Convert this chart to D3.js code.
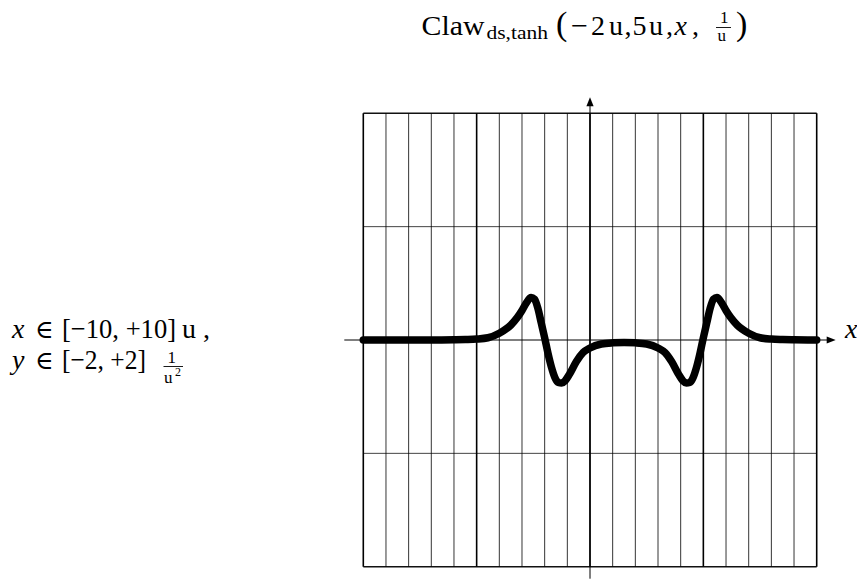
<!DOCTYPE html>
<html>
<head>
<meta charset="utf-8">
<script src="https://cdn.jsdelivr.net/npm/d3@7"></script>
<style>
  html, body { margin: 0; padding: 0; background: #fff; }
  svg { display: block; }
  text { font-family: "Liberation Serif", "DejaVu Serif", serif; fill: #000; }
</style>
</head>
<body>
<svg id="chart" width="857" height="584"></svg>
<script>
// Plot ranges
const xDomain = [-10, 10];
const yDomain = [-2, 2];

// Grid positions (x every unit, heavier every 5; y every unit)
const xGridValues = [-10, -9, -8, -7, -6, -5, -4, -3, -2, -1, 0, 1, 2, 3, 4, 5, 6, 7, 8, 9, 10];
const xMajorValues = [-10, -5, 0, 5, 10];
const yGridValues = [-2, -1, 1, 2];

// Sampled claw curve
const curveX = [-10, -7, -6, -5.5, -5, -4.5, -4, -3.5, -3.2, -3, -2.8, -2.6, -2.45, -2.3, -2.15, -2,
  -1.85, -1.7, -1.55, -1.4, -1.25, -1.1, -0.9, -0.6, -0.3, 0, 0.5, 1, 1.5, 2, 2.5, 3, 3.3, 3.6,
  3.9, 4.1, 4.25, 4.4, 4.55, 4.7, 4.85, 5, 5.15, 5.3, 5.45, 5.6, 5.8, 6, 6.2, 6.5, 7, 7.5, 8,
  8.5, 9, 10];
const curveY = [0, 0, 0.002, 0.004, 0.008, 0.02, 0.06, 0.13, 0.2, 0.26, 0.33, 0.375, 0.36, 0.28, 0.15, 0.02,
  -0.12, -0.24, -0.33, -0.375, -0.38, -0.36, -0.3, -0.19, -0.11, -0.07, -0.035, -0.025, -0.022, -0.025, -0.035, -0.07, -0.11, -0.19,
  -0.3, -0.36, -0.38, -0.375, -0.33, -0.24, -0.12, 0.02, 0.15, 0.28, 0.36, 0.375, 0.33, 0.26, 0.2, 0.13, 0.06, 0.02, 0.008,
  0.004, 0.002, 0];

const svg = d3.select("#chart");

const x = d3.scaleLinear().domain(xDomain).range([363.3, 816.7]);
const y = d3.scaleLinear().domain(yDomain).range([566.7, 113.3]);

// ---- grid ----
const grid = svg.append("g");
grid.selectAll("line.hgrid")
  .data(yGridValues)
  .join("line")
  .attr("x1", x(xDomain[0])).attr("x2", x(xDomain[1]))
  .attr("y1", d => y(d)).attr("y2", d => y(d))
  .attr("stroke", d => (d === yDomain[0] || d === yDomain[1]) ? "#111" : "#444")
  .attr("stroke-width", d => (d === yDomain[0] || d === yDomain[1]) ? 1.4 : 1);

grid.selectAll("line.vgrid")
  .data(xGridValues)
  .join("line")
  .attr("x1", d => x(d)).attr("x2", d => x(d))
  .attr("y1", y(yDomain[0])).attr("y2", y(yDomain[1]))
  .attr("stroke", "#000")
  .attr("stroke-width", d => xMajorValues.includes(d) ? 1.6 : 0.8);

// ---- axes with arrowheads ----
const axes = svg.append("g");
const x0 = x(0), y0 = y(0);
const xStart = x(xDomain[0]) - 19, xTip = x(xDomain[1]) + 19;
const yStart = y(yDomain[0]) + 12, yTip = y(yDomain[1]) - 16;

axes.append("line")
  .attr("x1", xStart).attr("x2", xTip - 6)
  .attr("y1", y0).attr("y2", y0)
  .attr("stroke", "#000").attr("stroke-width", 1);
axes.append("line")
  .attr("x1", x0).attr("x2", x0)
  .attr("y1", yStart).attr("y2", yTip + 6)
  .attr("stroke", "#000").attr("stroke-width", 1);

axes.append("path")
  .attr("d", `M${xTip},${y0} L${xTip - 9},${y0 - 3.6} L${xTip - 9},${y0 + 3.6} Z`)
  .attr("fill", "#000");
axes.append("path")
  .attr("d", `M${x0},${yTip} L${x0 - 3.6},${yTip + 9} L${x0 + 3.6},${yTip + 9} Z`)
  .attr("fill", "#000");

// ---- curve ----
const points = curveX.map((d, i) => [d, curveY[i]]);
const line = d3.line()
  .x(d => x(d[0]))
  .y(d => y(d[1]))
  .curve(d3.curveMonotoneX);

svg.append("path")
  .datum(points)
  .attr("d", line)
  .attr("fill", "none")
  .attr("stroke", "#000")
  .attr("stroke-width", 7.5)
  .attr("stroke-linecap", "round")
  .attr("stroke-linejoin", "round");

// ---- text helpers ----
function put(str, px, py, size, opts = {}) {
  const t = svg.append("text")
    .attr("x", px).attr("y", py)
    .attr("font-size", size)
    .text(str);
  if (opts.italic) t.attr("font-style", "italic");
  if (opts.len) t.attr("textLength", opts.len).attr("lengthAdjust", "spacingAndGlyphs");
  return t;
}
function bar(x1, x2, yy) {
  svg.append("line").attr("x1", x1).attr("x2", x2).attr("y1", yy).attr("y2", yy)
    .attr("stroke", "#000").attr("stroke-width", 0.9);
}
// stacked fraction: numerator and denominator in one text element
function frac(num, den, nx, ny, dx, dy, size, sup) {
  const t = svg.append("text").attr("font-size", size);
  t.append("tspan").attr("x", nx).attr("y", ny).text(num);
  t.append("tspan").attr("x", dx).attr("y", dy).text(den);
  if (sup) {
    t.append("tspan").attr("x", sup.x).attr("y", sup.y)
      .attr("font-size", sup.size).text(sup.text);
  }
  return t;
}

// title: Claw_{ds,tanh}(−2 u, 5 u, x, 1/u)
put("Claw", 421.5, 35, 28, { len: 63 });
put("ds,tanh", 486.5, 38.5, 18, { len: 61.5 });
put("(", 556, 35, 34);
put("\u2212", 571, 35, 28, { len: 17 });
put("2", 591, 35, 28);
put("u", 609, 35, 28);
put(",", 624.5, 35, 28);
put("5", 632.5, 35, 28);
put("u", 649, 35, 28);
put(",", 666, 35, 28);
put("x", 674.5, 35, 28, { italic: true });
put(",", 692, 35, 28);
frac("1", "u", 720, 23, 717.5, 40.5, 17);
bar(716, 731, 27.5);
put(")", 736, 35, 34);

// range description
put("x", 12, 338, 28, { italic: true });
put("\u2208", 35, 338, 25);
put("[\u221210, +10]", 62, 338, 28, { len: 114 });
put("u", 182, 338, 28);
put(",", 203, 338, 28);

put("y", 12, 369, 28, { italic: true });
put("\u2208", 35, 369, 25);
put("[\u22122, +2]", 62, 369, 28, { len: 84 });
frac("1", "u", 167.5, 363, 164, 383, 17, { x: 175, y: 376, size: 12, text: "2" });
bar(163.5, 183, 366.5);

// axis name
put("x", 845, 338, 28, { italic: true });
</script>
</body>
</html>
